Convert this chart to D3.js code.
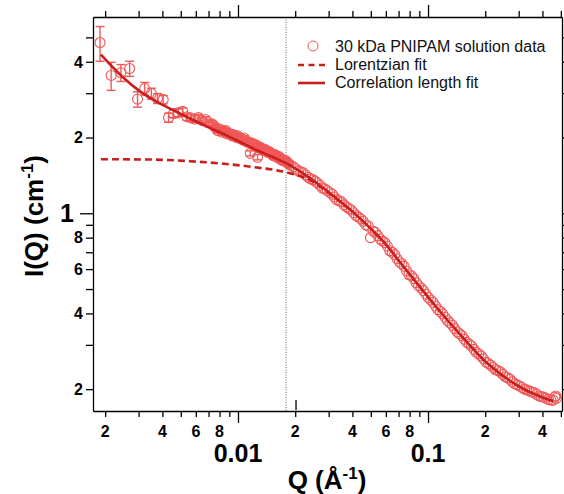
<!DOCTYPE html>
<html lang="en">
<head>
<meta charset="UTF-8">
<title>PNIPAM SANS</title>
<style>
  body { margin: 0; background: #fff; }
  svg text { font-family: "Liberation Sans", Arial, Helvetica, sans-serif; }
  .axis path, .axis line { stroke: #000; stroke-width: 1.3px; }
</style>
</head>
<body>
<div id="chart"></div>
<script src="https://cdn.jsdelivr.net/npm/d3@7"></script>
<script>
// low-Q configuration (with error bars)
const qLow = [0.00188,0.00215,0.00242,0.00269,0.00296,0.00323,0.00350,0.00377,0.00404,0.00431,
  0.00458,0.00485,0.00512,0.00539,0.00566,0.00593,0.00620,0.00647,0.00674,0.00701,
  0.00728,0.00742,0.00755,0.00769,0.00782,0.00796,0.00809,0.00823,0.00836,0.00850,
  0.00863,0.00877,0.00890,0.00904,0.00917,0.00931,0.00944,0.00958,0.00971,0.00985,
  0.00998,0.01012,0.01025,0.01039,0.01052,0.01066,0.01079,0.01093,0.01106,0.01120,
  0.01133,0.01147,0.01160,0.01174,0.01187,0.01201,0.01214,0.01228,0.01241,0.01255,
  0.01268,0.01282,0.01295,0.01309,0.01322,0.01336,0.01349,0.01363,0.01376,0.01390,
  0.01403,0.01417,0.01430,0.01444,0.01457,0.01471,0.01484,0.01498,0.01511,0.01525,
  0.01538,0.01552,0.01565,0.01579,0.01592,0.01606,0.01619,0.01633,0.01646,0.01660,
  0.01673,0.01687,0.01700,0.01714,0.01727,0.01741,0.01754,0.01768,0.01781,0.01795,
  0.01808,0.01822,0.01835];
const iLow = [4.77,3.53,3.62,3.76,2.84,3.13,2.99,2.86,2.83,2.40,
  2.49,2.51,2.54,2.42,2.39,2.37,2.40,2.34,2.36,2.29,
  2.27,2.24,2.20,2.18,2.13,2.16,2.15,2.10,2.12,2.11,
  2.13,2.07,2.08,2.07,2.06,2.03,2.05,2.04,2.02,2.00,
  2.03,1.99,1.99,1.98,1.97,1.95,1.99,1.95,1.93,1.92,
  1.92,1.91,1.73,1.89,1.90,1.88,1.86,1.85,1.87,1.86,
  1.67,1.82,1.83,1.83,1.82,1.80,1.80,1.78,1.79,1.79,
  1.78,1.76,1.75,1.75,1.76,1.74,1.73,1.73,1.72,1.70,
  1.70,1.70,1.71,1.68,1.69,1.68,1.67,1.66,1.68,1.65,
  1.65,1.64,1.64,1.62,1.63,1.62,1.62,1.61,1.62,1.60,
  1.60,1.59,1.58];
const errLow = [0.75,0.45,0.28,0.26,0.20,0.18,0.15,0.13,0.11,0.10,
  0.09,0.09,0.08,0.08,0.07,0.07,0.07,0.06,0.06,0.06,
  0.06,0.05,0.05,0.05,0.05,0.05,0.05,0.05,0.05,0.05,
  0.05,0.05,0.05,0.05,0.05,0.05,0.05,0.05,0.05,0.05,
  0.04,0.04,0.04,0.04,0.04,0.04,0.04,0.04,0.04,0.04,
  0.04,0.04,0.04,0.04,0.04,0.04,0.04,0.04,0.04,0.04,
  0.04,0.04,0.04,0.04,0.04,0.04,0.04,0.04,0.04,0.04,
  0.04,0.04,0.04,0.04,0.04,0.04,0.04,0.04,0.04,0.04,
  0.04,0.04,0.04,0.04,0.04,0.04,0.04,0.04,0.04,0.04,
  0.04,0.04,0.04,0.04,0.04,0.04,0.04,0.04,0.04,0.04,
  0.04,0.04,0.04];

// high-Q configuration
const qHigh = [0.0185,0.0190,0.0196,0.0202,0.0208,0.0214,0.0220,0.0227,0.0234,0.0241,
  0.0248,0.0255,0.0262,0.0270,0.0278,0.0286,0.0295,0.0304,0.0313,0.0322,
  0.0331,0.0341,0.0351,0.0361,0.0372,0.0383,0.0394,0.0406,0.0418,0.0430,
  0.0443,0.0456,0.0470,0.0484,0.0498,0.0513,0.0528,0.0544,0.0560,0.0576,
  0.0593,0.0611,0.0629,0.0648,0.0667,0.0687,0.0707,0.0728,0.0749,0.0771,
  0.0794,0.0818,0.0842,0.0867,0.0892,0.0919,0.0946,0.0974,0.1003,0.1033,
  0.1063,0.1095,0.1127,0.1160,0.1194,0.1230,0.1266,0.1304,0.1342,0.1382,
  0.1422,0.1465,0.1508,0.1553,0.1598,0.1646,0.1694,0.1745,0.1796,0.1849,
  0.1903,0.1960,0.2018,0.2078,0.2139,0.2203,0.2267,0.2335,0.2403,0.2475,
  0.2547,0.2623,0.2700,0.2781,0.2862,0.2947,0.3034,0.3125,0.3216,0.3312,
  0.3409,0.3511,0.3613,0.3721,0.3830,0.3945,0.4060,0.4181,0.4303,0.4432,
  0.4561,0.4650,0.4700,0.4740];
const iHigh = [1.57,1.55,1.53,1.50,1.47,1.46,1.45,1.42,1.39,1.37,
  1.36,1.34,1.32,1.29,1.26,1.25,1.23,1.21,1.19,1.16,
  1.13,1.12,1.11,1.08,1.06,1.045,1.03,1.005,0.98,0.965,
  0.95,0.93,0.90,0.89,0.80,0.85,0.84,0.815,0.79,0.775,
  0.765,0.74,0.71,0.70,0.685,0.66,0.64,0.63,0.615,0.59,
  0.57,0.565,0.55,0.53,0.515,0.505,0.493,0.477,0.462,0.452,
  0.443,0.428,0.414,0.407,0.398,0.386,0.375,0.367,0.359,0.348,
  0.338,0.332,0.326,0.316,0.307,0.302,0.297,0.288,0.280,0.276,
  0.271,0.264,0.256,0.253,0.249,0.244,0.239,0.237,0.234,0.229,
  0.224,0.222,0.219,0.214,0.210,0.208,0.206,0.203,0.200,0.199,
  0.197,0.195,0.194,0.191,0.188,0.187,0.186,0.184,0.182,0.181,
  0.181,0.186,0.188,0.184];

// correlation length fit
const qFit = [0.00190,0.00248,0.00305,0.00375,0.00455,0.00559,0.00687,0.00834,0.01025,0.0126,
  0.0153,0.0188,0.0239,0.0305,0.0389,0.0495,0.0594,0.0713,0.0908,0.1157,
  0.1474,0.2045,0.305,0.455];
const iCorr = [4.27,3.47,3.05,2.77,2.57,2.38,2.21,2.07,1.92,1.78,
  1.67,1.55,1.38,1.202,1.035,0.875,0.759,0.638,0.509,0.407,
  0.330,0.254,0.204,0.179];

// Lorentzian fit (merges into the solid curve above Q ~ 0.03)
const qLor = [0.0019,0.0035,0.0056,0.0091,0.0126,0.0173,0.0200,0.0239,0.0305,0.0389];
const iLor = [1.640,1.635,1.610,1.565,1.520,1.465,1.425,1.357,1.193,1.033];

const xTicks = [0.002,0.003,0.004,0.005,0.006,0.007,0.008,0.009,0.01,
  0.02,0.03,0.04,0.05,0.06,0.07,0.08,0.09,0.1,0.2,0.3,0.4,0.5];
const yTicks = [0.2,0.3,0.4,0.5,0.6,0.7,0.8,0.9,1,2,3,4,5];
const labelDigits = [2,4,6,8];

const legendLabels = ["30 kDa PNIPAM solution data", "Lorentzian fit", "Correlation length fit"];

const dataColor = "#f05858", fitColor = "#c81e1e";

const svg = d3.select("#chart").append("svg")
  .attr("width", 564).attr("height", 494);

const x = d3.scaleLog().domain([0.001726, 0.507]).range([93, 562]);
const y = d3.scaleLog().domain([0.1638, 6.025]).range([411, 17]);

const isMajor = v => Math.abs(Math.log10(v) - Math.round(Math.log10(v))) < 1e-6;
const lead = v => Math.round(v / Math.pow(10, Math.floor(Math.log10(v) + 1e-9)));
const minorLabel = v => !isMajor(v) && labelDigits.includes(lead(v)) ? String(lead(v)) : "";

// dotted marker line
svg.append("line")
  .attr("x1", x(0.0179)).attr("x2", x(0.0179))
  .attr("y1", y.range()[1]).attr("y2", y.range()[0])
  .attr("stroke", "#666").attr("stroke-width", 1).attr("stroke-dasharray", "1,1.5");
svg.append("line")
  .attr("x1", x(0.0202)).attr("x2", x(0.0202))
  .attr("y1", 400).attr("y2", 410)
  .attr("stroke", "#000").attr("stroke-width", 1.3);

// axes
const gB = svg.append("g").attr("class", "axis").attr("transform", `translate(0,${y.range()[0]})`)
  .call(d3.axisBottom(x).tickValues(xTicks).tickSize(6).tickSizeOuter(0).tickFormat(""));
gB.selectAll(".tick line").attr("y2", d => isMajor(d) ? 12 : 6);
const gT = svg.append("g").attr("class", "axis").attr("transform", `translate(0,${y.range()[1]})`)
  .call(d3.axisTop(x).tickValues(xTicks).tickSize(6).tickSizeOuter(0).tickFormat(""));
gT.selectAll(".tick line").attr("y2", d => isMajor(d) ? -12 : -6);
const gL = svg.append("g").attr("class", "axis").attr("transform", `translate(${x.range()[0]},0)`)
  .call(d3.axisLeft(y).tickValues(yTicks).tickSize(7).tickSizeOuter(0).tickFormat(""));
gL.selectAll(".tick line").attr("x2", d => isMajor(d) ? -13 : -7);
const gR = svg.append("g").attr("class", "axis").attr("transform", `translate(${x.range()[1]},0)`)
  .call(d3.axisRight(y).tickValues(yTicks).tickSize(7).tickSizeOuter(0).tickFormat(""));
gR.selectAll(".tick line").attr("x2", d => isMajor(d) ? 13 : 7);

// tick labels
svg.append("g").selectAll("text").data(xTicks.filter(v => minorLabel(v) !== ""))
  .join("text")
  .attr("x", d => x(d)).attr("y", 437)
  .attr("text-anchor", "middle").attr("font-size", 16).attr("font-weight", "bold")
  .text(minorLabel);
svg.append("g").selectAll("text").data(xTicks.filter(isMajor))
  .join("text")
  .attr("x", d => x(d)).attr("y", 462)
  .attr("text-anchor", "middle").attr("font-size", 25).attr("font-weight", "bold")
  .text(d => d3.format("~g")(d));
svg.append("g").selectAll("text").data(yTicks.filter(v => minorLabel(v) !== ""))
  .join("text")
  .attr("x", 83).attr("y", d => y(d)).attr("dy", "0.36em")
  .attr("text-anchor", "end").attr("font-size", 16).attr("font-weight", "bold")
  .text(minorLabel);
svg.append("g").selectAll("text").data(yTicks.filter(isMajor))
  .join("text")
  .attr("x", 74).attr("y", d => y(d)).attr("dy", "0.36em")
  .attr("text-anchor", "end").attr("font-size", 25).attr("font-weight", "bold")
  .text(d => d3.format("~g")(d));

// axis titles
const yt = svg.append("text")
  .attr("transform", "translate(43,216) rotate(-90)")
  .attr("text-anchor", "middle").attr("font-size", 26).attr("font-weight", "bold");
yt.append("tspan").text("I(Q) (cm");
yt.append("tspan").attr("dy", -10).attr("font-size", 17).text("-1");
yt.append("tspan").attr("dy", 10).text(")");

const xt = svg.append("text")
  .attr("x", 327).attr("y", 489)
  .attr("text-anchor", "middle").attr("font-size", 26).attr("font-weight", "bold");
xt.append("tspan").text("Q (Å");
xt.append("tspan").attr("dy", -10).attr("font-size", 17).text("-1");
xt.append("tspan").attr("dy", 10).text(")");

// data
const low = qLow.map((q, i) => ({q, v: iLow[i], e: errLow[i]}));
const high = qHigh.map((q, i) => ({q, v: iHigh[i]}));

const eb = svg.append("g").attr("stroke", dataColor).attr("stroke-width", 1.4);
low.forEach(d => {
  const y1 = y(d.v + d.e), y2 = y(d.v - d.e), cx = x(d.q);
  eb.append("line").attr("x1", cx).attr("x2", cx).attr("y1", y1).attr("y2", y2);
  eb.append("line").attr("x1", cx - 4.5).attr("x2", cx + 4.5).attr("y1", y1).attr("y2", y1);
  eb.append("line").attr("x1", cx - 4.5).attr("x2", cx + 4.5).attr("y1", y2).attr("y2", y2);
});

svg.append("g").selectAll("circle").data(low.concat(high))
  .join("circle")
  .attr("cx", d => x(d.q)).attr("cy", d => y(d.v)).attr("r", 5)
  .attr("fill", "none").attr("stroke", dataColor).attr("stroke-width", 1.1);

// fits
const line = d3.line().x(d => x(d[0])).y(d => y(d[1])).curve(d3.curveMonotoneX);
svg.append("path").datum(qLor.map((q, i) => [q, iLor[i]]))
  .attr("d", line).attr("fill", "none").attr("stroke", fitColor)
  .attr("stroke-width", 2.6).attr("stroke-dasharray", "7,4");
svg.append("path").datum(qFit.map((q, i) => [q, iCorr[i]]))
  .attr("d", line).attr("fill", "none").attr("stroke", fitColor)
  .attr("stroke-width", 2.6);

// legend
const lg = svg.append("g");
lg.append("circle").attr("cx", 313).attr("cy", 46).attr("r", 5)
  .attr("fill", "none").attr("stroke", dataColor).attr("stroke-width", 1);
lg.append("line").attr("x1", 298).attr("x2", 325).attr("y1", 65).attr("y2", 65)
  .attr("stroke", fitColor).attr("stroke-width", 2.6).attr("stroke-dasharray", "6,4.5");
lg.append("line").attr("x1", 298).attr("x2", 325).attr("y1", 83).attr("y2", 83)
  .attr("stroke", fitColor).attr("stroke-width", 2.6);
lg.selectAll("text").data(legendLabels).join("text")
  .attr("x", 335).attr("y", (d, i) => [51.5, 70, 88][i])
  .attr("font-size", 16).attr("fill", "#111")
  .text(d => d);
</script>
</body>
</html>
